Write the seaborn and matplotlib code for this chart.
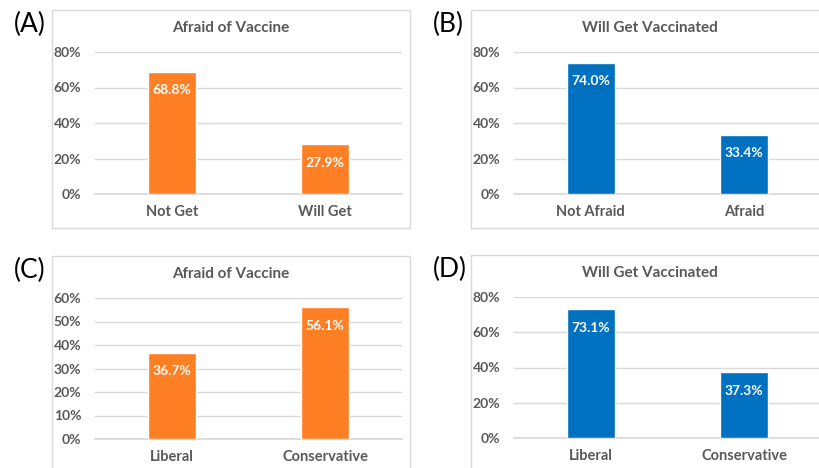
import pandas as pd
import matplotlib.pyplot as plt
import seaborn as sns
from matplotlib.patches import Rectangle
from matplotlib.ticker import PercentFormatter, MultipleLocator

sns.set_theme(style="white")
plt.rcParams['font.family'] = ['Lato', 'DejaVu Sans']

# data
panel_labels = ['(A)', '(B)', '(C)', '(D)']
titles = ['Afraid of Vaccine', 'Will Get Vaccinated', 'Afraid of Vaccine', 'Will Get Vaccinated']
cats_a = ['Not Get', 'Will Get']
vals_a = [0.688, 0.279]
cats_b = ['Not Afraid', 'Afraid']
vals_b = [0.740, 0.334]
cats_c = ['Liberal', 'Conservative']
vals_c = [0.367, 0.561]
cats_d = ['Liberal', 'Conservative']
vals_d = [0.731, 0.373]

ORANGE = '#FF7F24'
BLUE = '#0070C0'
GREY_TXT = '#595959'
GRID = '#D9D9D9'

W, H = 819, 468
fig = plt.figure(figsize=(W / 100, H / 100), dpi=100)


def px_axes(left, right, top, bottom):
    return fig.add_axes([left / W, 1 - bottom / H, (right - left) / W, (bottom - top) / H])


def px_box(left, right, top, bottom):
    fig.patches.append(Rectangle((left / W, 1 - bottom / H), (right - left) / W, (bottom - top) / H,
                                 transform=fig.transFigure, fill=False, edgecolor=GRID, linewidth=1.0))


# (axes px left, right, top, bottom), (box left, right, top, bottom), ymax, ystep, colour
layout = [
    ((95, 402, 52, 194), (52, 410, 10, 228), 0.8, 0.2, ORANGE, cats_a, vals_a),
    ((514, 821, 52, 194), (471, 840, 10, 228), 0.8, 0.2, BLUE, cats_b, vals_b),
    ((95, 402, 298, 439), (52, 410, 256, 480), 0.6, 0.1, ORANGE, cats_c, vals_c),
    ((514, 821, 297, 438), (471, 840, 255, 480), 0.8, 0.2, BLUE, cats_d, vals_d),
]

for i, (ax_px, box_px, ymax, ystep, color, cats, vals) in enumerate(layout):
    px_box(*box_px)
    ax = px_axes(*ax_px)
    df = pd.DataFrame({'cat': cats, 'val': vals})
    sns.barplot(data=df, x='cat', y='val', color=color, saturation=1, width=0.31, ax=ax, zorder=3)
    ax.set_ylim(0, ymax)
    ax.yaxis.set_major_locator(MultipleLocator(ystep))
    ax.yaxis.set_major_formatter(PercentFormatter(1.0, decimals=0))
    ax.grid(axis='y', color=GRID, linewidth=1.0, zorder=0)
    ax.set_axisbelow(True)
    for s in ax.spines.values():
        s.set_visible(False)
    ax.spines['bottom'].set_visible(True)
    ax.spines['bottom'].set_color(GRID)
    ax.set_xlabel('')
    ax.set_ylabel('')
    ax.tick_params(axis='both', length=0, labelcolor=GREY_TXT)
    ax.tick_params(axis='y', pad=10, labelsize=10)
    ax.tick_params(axis='x', pad=8, labelsize=10.5)
    for lbl in ax.get_xticklabels() + ax.get_yticklabels():
        lbl.set_fontweight('bold')
    for j, v in enumerate(vals):
        ax.annotate(f"{v:.1%}", (j, v), xytext=(0, -9), textcoords='offset points',
                    ha='center', va='top', color='white', fontsize=10, fontweight='bold')
    # title and panel label
    bl, br, bt, bb = box_px
    cx = (bl + br) / 2 if i % 2 == 0 else (bl + 829) / 2
    fig.text(cx / W, 1 - (bt + 18) / H, titles[i], ha='center', va='center',
             fontsize=11, fontweight='bold', color=GREY_TXT)
    fig.text((bl - 38) / W, 1 - (bt + 14) / H, panel_labels[i], ha='left', va='center',
             fontsize=19, color='black')

fig.savefig('out.png', dpi=100, facecolor='white')
